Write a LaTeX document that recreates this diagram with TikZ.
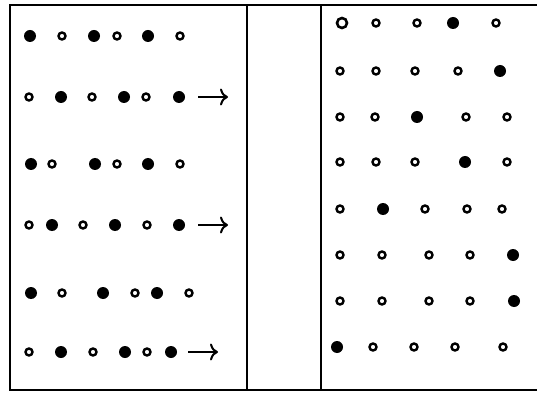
\documentclass[tikz,border=0pt]{standalone}
\usetikzlibrary{arrows.meta}
\begin{document}
\begin{tikzpicture}[x=1pt, y=-1pt, line width=1.8pt,
    dotf/.style={circle, fill, inner sep=0pt, minimum size=12pt},
    doto/.style={circle, draw, line width=2.4pt, inner sep=0pt, minimum size=7pt},
    dotO/.style={circle, draw, line width=2.6pt, inner sep=0pt, minimum size=10pt},
    moveArrow/.style={-{To[length=8pt, width=17pt]}, line width=2pt}]
    \useasboundingbox (0,0) rectangle (537,395);
    % frame
    \draw (537,5) -- (10,5) -- (10,390) -- (537,390);
    \draw (247,5) -- (247,390);
    \draw (321,5) -- (321,390);
    % left panel: six rows of charges
    \foreach \y/\row [count=\r] in {
        36/{30/f,62/o,94/f,117/o,148/f,180/o},
        97/{29/o,61/f,92/o,124/f,146/o,179/f},
        164/{31/f,52/o,95/f,117/o,148/f,180/o},
        225/{29/o,52/f,83/o,115/f,147/o,179/f},
        293/{31/f,62/o,103/f,135/o,157/f,189/o},
        352/{29/o,61/f,93/o,125/f,147/o,171/f}}
        \foreach \x/\k [count=\i] in \row
            \node[dot\k] (L\r-\i) at (\x,\y) {};
    % arrows after the shifted rows
    \coordinate (A2-s) at (198,97);  \coordinate (A2-e) at (228,97);
    \coordinate (A4-s) at (198,225); \coordinate (A4-e) at (228,225);
    \coordinate (A6-s) at (188,352); \coordinate (A6-e) at (218,352);
    \foreach \r in {2,4,6} \draw[moveArrow] (A\r-s) -- (A\r-e);
    % right panel: lattice
    \foreach \y/\row [count=\r] in {
        23/{342/O,376/o,417/o,453/f,496/o},
        71/{340/o,376/o,415/o,458/o,500/f},
        117/{340/o,375/o,417/f,466/o,507/o},
        162/{340/o,376/o,415/o,465/f,507/o},
        209/{340/o,383/f,425/o,467/o,502/o},
        255/{340/o,382/o,429/o,470/o,513/f},
        301/{340/o,382/o,429/o,470/o,514/f},
        347/{337/f,373/o,414/o,455/o,503/o}}
        \foreach \x/\k [count=\i] in \row
            \node[dot\k] (R\r-\i) at (\x,\y) {};
\end{tikzpicture}
\end{document}
